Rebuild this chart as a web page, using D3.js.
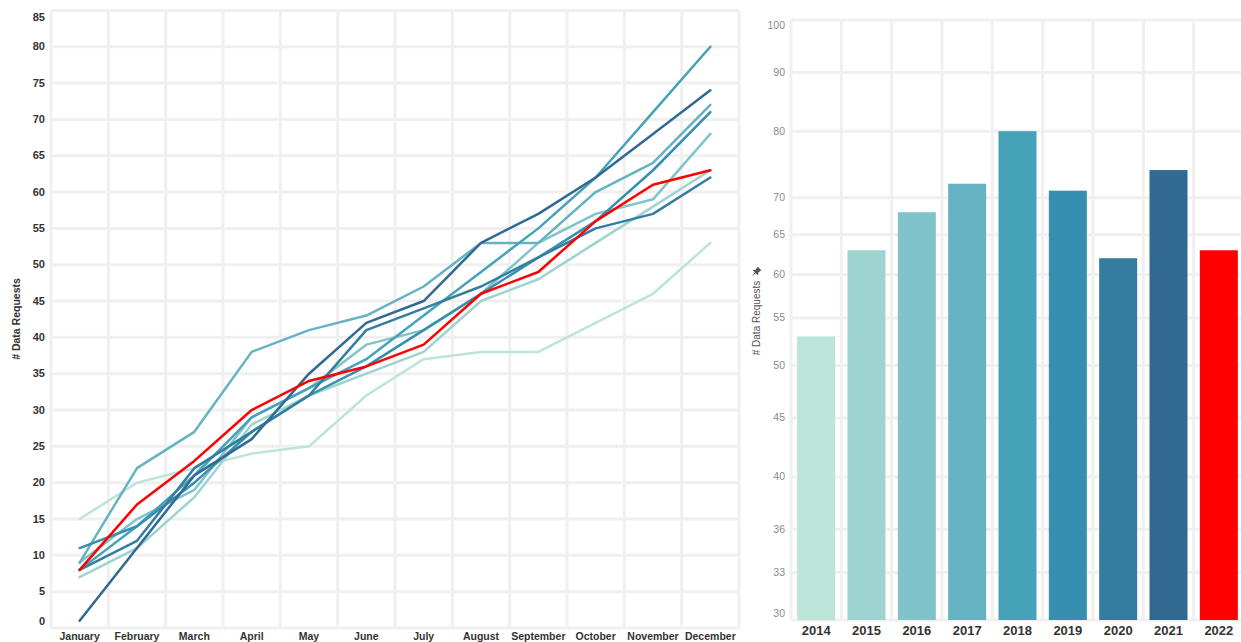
<!DOCTYPE html>
<html>
<head>
<meta charset="utf-8">
<script src="https://cdn.jsdelivr.net/npm/d3@7/dist/d3.min.js"></script>
<style>
  html, body { margin: 0; padding: 0; background: #fff; }
  svg { display: block; font-family: "Liberation Sans", Arial, sans-serif; }
</style>
</head>
<body>
<svg id="chart" width="1241" height="642"></svg>
<script>
// Months on the cumulative line chart
const months = ["January", "February", "March", "April", "May", "June",
  "July", "August", "September", "October", "November", "December"];

// Years, one line and one bar each
const years = ["2014", "2015", "2016", "2017", "2018", "2019", "2020", "2021", "2022"];

// Cumulative data requests per month, one array per year
const requests2014 = [15, 20, 22, 24, 25, 32, 37, 38, 38, 42, 46, 53];
const requests2015 = [7, 11, 18, 28, 32, 35, 38, 45, 48, 53, 58, 63];
const requests2016 = [9, 15, 19, 29, 33, 39, 41, 46, 53, 57, 59, 68];
const requests2017 = [9, 22, 27, 38, 41, 43, 47, 53, 53, 60, 64, 72];
const requests2018 = [8, 14, 21, 29, 33, 37, 43, 49, 55, 62, 71, 80];
const requests2019 = [11, 14, 20, 27, 32, 36, 41, 46, 51, 56, 63, 71];
const requests2020 = [8, 12, 22, 27, 32, 41, 44, 47, 51, 55, 57, 62];
const requests2021 = [1, 11, 21, 26, 35, 42, 45, 53, 57, 62, 68, 74];
const requests2022 = [8, 17, 23, 30, 34, 36, 39, 46, 49, 56, 61, 63];

// Tick values for both value axes
const lineTicks = d3.range(0, 90, 5);
const barTicks = [30, 33, 36, 40, 45, 50, 55, 60, 65, 70, 80, 90, 100];

// Blue-teal sequence, current year highlighted in red
const yearColors = ["#bce4d8", "#9dd3d1", "#81c3cb", "#65b3c2", "#45a2b9",
  "#368fae", "#347da0", "#306a93", "#ff0000"];

const yearSeries = [requests2014, requests2015, requests2016, requests2017, requests2018,
  requests2019, requests2020, requests2021, requests2022];

const lineData = years.map((y, i) => ({
  year: y,
  color: yearColors[i],
  values: months.map((m, j) => ({ month: m, value: yearSeries[i][j] }))
}));

// Annual total = the December cumulative value
const barData = years.map((y, i) => ({ year: y, color: yearColors[i], value: yearSeries[i][11] }));

const svg = d3.select("#chart");
const gridColor = "#f0f0f0";
const gridWidth = 3;

// ---------- Left panel: cumulative requests by month ----------
const L = { left: 51, right: 739, top: 10.4, bottom: 628 };

const xMonth = d3.scaleBand().domain(months).range([L.left, L.right]);
const yLine = d3.scaleLinear().domain([0, 85]).range([L.bottom, L.top]);

const left = svg.append("g");

// horizontal grid
left.append("g").selectAll("line").data(lineTicks).join("line")
  .attr("x1", L.left).attr("x2", L.right)
  .attr("y1", d => yLine(d)).attr("y2", d => yLine(d))
  .attr("stroke", gridColor).attr("stroke-width", gridWidth);

// vertical grid at month band edges
const monthEdges = months.map(m => xMonth(m)).concat([xMonth(months[11]) + xMonth.bandwidth()]);
left.append("g").selectAll("line").data(monthEdges).join("line")
  .attr("x1", d => d).attr("x2", d => d)
  .attr("y1", L.top).attr("y2", L.bottom)
  .attr("stroke", gridColor).attr("stroke-width", gridWidth);

// y axis labels
const yAxisL = d3.axisLeft(yLine).tickValues(lineTicks).tickSize(0).tickPadding(6);
const gyL = left.append("g").attr("transform", `translate(${L.left},0)`).call(yAxisL);
gyL.select(".domain").remove();
gyL.selectAll(".tick text")
  .attr("font-size", 11).attr("font-weight", "bold").attr("fill", "#333")
  .attr("font-family", "'Liberation Sans', Arial, sans-serif");
// keep the outermost labels inside the panel
gyL.selectAll(".tick").attr("transform", d => `translate(0,${Math.min(Math.max(yLine(d), 17), 621)})`);

// x axis labels
const xAxisL = d3.axisBottom(xMonth).tickSize(0).tickPadding(0);
const gxL = left.append("g").attr("transform", `translate(0,${L.bottom})`).call(xAxisL);
gxL.select(".domain").remove();
gxL.selectAll(".tick text")
  .attr("dy", "0")
  .attr("y", 12)
  .attr("font-size", 10.5).attr("font-weight", "bold").attr("fill", "#333")
  .attr("font-family", "'Liberation Sans', Arial, sans-serif");

// axis title
left.append("text")
  .attr("transform", `translate(20,319) rotate(-90)`)
  .attr("text-anchor", "middle")
  .attr("font-size", 10.5).attr("font-weight", "bold").attr("fill", "#333")
  .text("# Data Requests");

// lines
const lineGen = d3.line()
  .x(d => xMonth(d.month) + xMonth.bandwidth() / 2)
  .y(d => yLine(d.value));

left.append("g").selectAll("path").data(lineData).join("path")
  .attr("d", d => lineGen(d.values))
  .attr("fill", "none")
  .attr("stroke", d => d.color)
  .attr("stroke-width", 2.5)
  .attr("stroke-linejoin", "round")
  .attr("stroke-linecap", "round");

// ---------- Right panel: annual totals ----------
const R = { left: 791, right: 1244, top: 20, bottom: 620 };

const xYear = d3.scaleBand().domain(years).range([R.left, R.right])
  .paddingInner(0.245).paddingOuter(0.1225);
const yBar = d3.scaleLog().domain([30, 100]).range([R.bottom, R.top]);

const right = svg.append("g");

right.append("g").selectAll("line").data(barTicks).join("line")
  .attr("x1", R.left).attr("x2", R.right)
  .attr("y1", d => yBar(d)).attr("y2", d => yBar(d))
  .attr("stroke", gridColor).attr("stroke-width", gridWidth);

const step = xYear.step();
const yearEdges = d3.range(0, years.length + 1).map(i => R.left + i * step);
right.append("g").selectAll("line").data(yearEdges).join("line")
  .attr("x1", d => d).attr("x2", d => d)
  .attr("y1", R.top).attr("y2", R.bottom)
  .attr("stroke", gridColor).attr("stroke-width", gridWidth);

const yAxisR = d3.axisLeft(yBar).tickValues(barTicks).tickFormat(d3.format("d")).tickSize(0).tickPadding(6);
const gyR = right.append("g").attr("transform", `translate(${R.left},0)`).call(yAxisR);
gyR.select(".domain").remove();
gyR.selectAll(".tick text")
  .attr("font-size", 10.5).attr("fill", "#8a8a8a")
  .attr("font-family", "'Liberation Sans', Arial, sans-serif");
gyR.selectAll(".tick").attr("transform", d => `translate(0,${Math.min(Math.max(yBar(d), 26), 614)})`);

// bars
right.append("g").selectAll("rect").data(barData).join("rect")
  .attr("x", d => xYear(d.year))
  .attr("width", xYear.bandwidth())
  .attr("y", d => yBar(d.value))
  .attr("height", d => yBar(30) - yBar(d.value))
  .attr("fill", d => d.color);

// year labels
const xAxisR = d3.axisBottom(xYear).tickSize(0).tickPadding(0);
const gxR = right.append("g").attr("transform", `translate(0,${R.bottom})`).call(xAxisR);
gxR.select(".domain").remove();
gxR.selectAll(".tick text")
  .attr("dy", "0").attr("y", 15)
  .attr("font-size", 13).attr("font-weight", "bold").attr("fill", "#333")
  .attr("font-family", "'Liberation Sans', Arial, sans-serif");

// axis title with pin marker
right.append("text")
  .attr("transform", `translate(760,318) rotate(-90)`)
  .attr("text-anchor", "middle")
  .attr("font-size", 10).attr("fill", "#555")
  .text("# Data Requests");

right.append("path")
  .attr("transform", "translate(756,272) rotate(45)")
  .attr("d", "M-2.5,-5 L2.5,-5 L2,-1 L4,1 L-4,1 L-2,-1 Z M-0.6,1 L0.6,1 L0,6 Z")
  .attr("fill", "#555");
</script>
</body>
</html>
